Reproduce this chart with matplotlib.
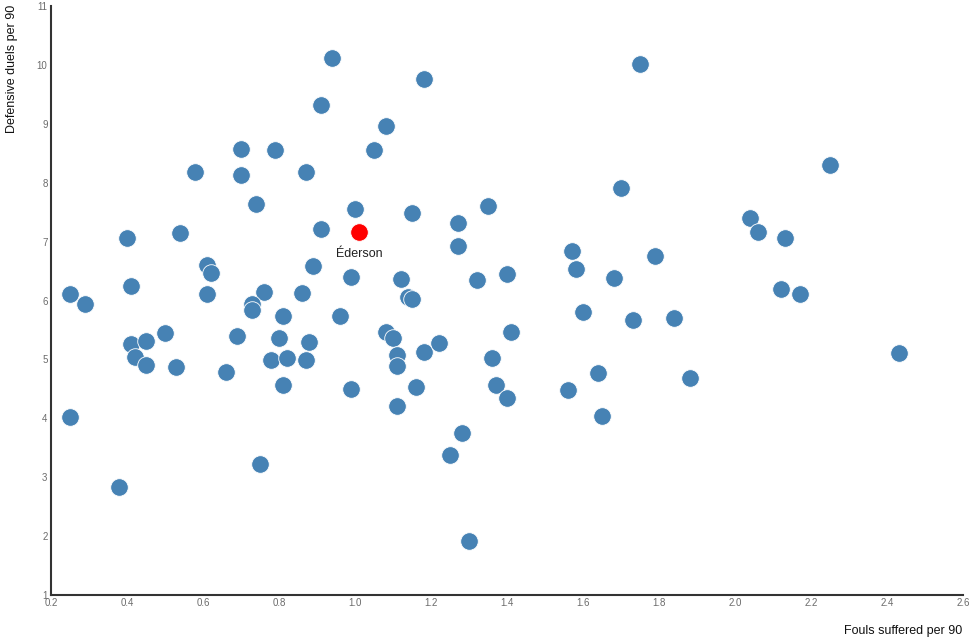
import matplotlib.pyplot as plt

plt.rcParams['font.family'] = ['Liberation Sans', 'DejaVu Sans']

# Fouls suffered per 90 (x) and defensive duels per 90 (y)
fouls = [0.94, 0.91, 0.70, 0.79, 0.58, 0.70, 0.87, 0.74, 1.00, 0.91,
         0.40, 0.54, 0.61, 0.62, 0.89, 0.99, 0.41, 0.25, 0.61, 0.76,
         0.86, 0.29, 0.73, 0.73, 1.18, 1.75, 1.08, 1.05, 1.70, 1.15,
         1.35, 1.27, 1.27, 1.57, 1.58, 1.79, 1.68, 1.40, 1.32, 1.12,
         1.14, 1.15, 2.25, 2.04, 2.06, 2.13, 2.12, 2.17, 0.81, 0.96,
         0.50, 0.69, 0.41, 0.45, 0.80, 0.88, 0.42, 0.45, 0.53, 0.66,
         0.78, 0.82, 0.87, 0.81, 0.99, 0.25, 0.75, 0.38, 1.08, 1.10,
         1.11, 1.11, 1.18, 1.22, 1.41, 1.36, 1.37, 1.40, 1.16, 1.11,
         1.28, 1.25, 1.30, 1.60, 1.73, 1.84, 1.64, 1.56, 1.65, 1.88,
         2.43]
duels = [10.13, 9.32, 8.58, 8.56, 8.19, 8.13, 8.19, 7.64, 7.55, 7.22,
         7.07, 7.15, 6.61, 6.47, 6.59, 6.40, 6.24, 6.11, 6.11, 6.15,
         6.13, 5.94, 5.94, 5.84, 9.77, 10.03, 8.96, 8.56, 7.91, 7.49,
         7.61, 7.31, 6.92, 6.84, 6.53, 6.75, 6.39, 6.45, 6.35, 6.36,
         6.06, 6.03, 8.30, 7.41, 7.16, 7.06, 6.20, 6.11, 5.73, 5.73,
         5.44, 5.40, 5.26, 5.31, 5.37, 5.30, 5.04, 4.91, 4.87, 4.78,
         4.98, 5.02, 4.99, 4.57, 4.50, 4.02, 3.22, 2.83, 5.47, 5.37,
         5.08, 4.88, 5.12, 5.28, 5.47, 5.02, 4.56, 4.35, 4.53, 4.20,
         3.75, 3.37, 1.91, 5.81, 5.66, 5.70, 4.76, 4.48, 4.04, 4.68,
         5.10]

highlight_name = 'Éderson'
highlight_x = 1.01
highlight_y = 7.16

x_ticks = [0.2, 0.4, 0.6, 0.8, 1.0, 1.2, 1.4, 1.6, 1.8, 2.0, 2.2, 2.4, 2.6]
y_ticks = list(range(1, 12))

fig = plt.figure(figsize=(9.75, 6.43), dpi=100)
ax = fig.add_axes([0.0523, 0.0754, 0.9357, 0.9145])

ax.scatter(fouls, duels, s=160, color='#4682b4', edgecolors='white',
           linewidths=0.6, zorder=3, clip_on=False)
ax.scatter([highlight_x], [highlight_y], s=160, color='#ff0000',
           edgecolors='white', linewidths=0.6, zorder=4, clip_on=False)
ax.annotate(highlight_name, (highlight_x, highlight_y), xytext=(0, -11),
            textcoords='offset points', ha='center', va='top',
            fontsize=9, color='#222222')

ax.set_xlim(0.2, 2.6)
ax.set_ylim(1, 11)
ax.set_xticks(x_ticks)
ax.set_xticklabels([f'{t:.1f}' for t in x_ticks])
ax.set_yticks(y_ticks)
ax.tick_params(length=0, labelsize=7, labelcolor='#6b6b6b', pad=2.5)

for side in ['top', 'right']:
    ax.spines[side].set_visible(False)
for side in ['left', 'bottom']:
    ax.spines[side].set_color('#333333')
    ax.spines[side].set_linewidth(1.5)

fig.text(12 / 975, 1 - 5 / 643, 'Defensive duels per 90', rotation=90,
         ha='center', va='top', fontsize=9, color='#111111')
fig.text(962 / 975, 1 - 631 / 643, 'Fouls suffered per 90',
         ha='right', va='center', fontsize=9, color='#111111')

plt.savefig('out.png', dpi=100)
